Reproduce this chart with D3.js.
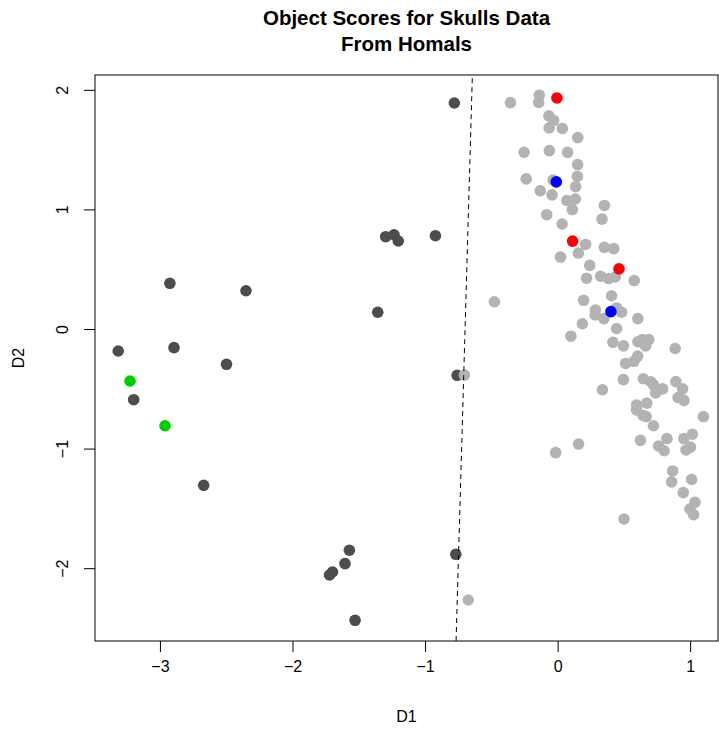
<!DOCTYPE html>
<html>
<head>
<meta charset="utf-8">
<title>Object Scores for Skulls Data</title>
<script src="https://cdn.jsdelivr.net/npm/d3@7"></script>
<style>
  body { margin: 0; background: #fff; }
  text { font-family: "Liberation Sans", Arial, Helvetica, sans-serif; fill: #000; }
</style>
</head>
<body>
<div id="chart"></div>
<script>
// object scores (D1, D2)
var darkPts = [
  [-0.779, 1.890], [-1.297, 0.772], [-1.234, 0.788], [-1.202, 0.736], [-0.922, 0.780],
  [-2.351, 0.320], [-1.357, 0.140], [-2.925, 0.382], [-3.315, -0.184], [-2.894, -0.156],
  [-2.498, -0.295], [-3.198, -0.591], [-2.670, -1.307], [-0.758, -0.387], [-1.571, -1.850],
  [-1.604, -1.962], [-1.721, -2.057], [-1.698, -2.032], [-0.768, -1.884], [-1.528, -2.436]
];
var greyPts = [
  [-0.703, -0.385], [-0.674, -2.266], [-0.477, 0.228], [-0.356, 1.893], [-0.138, 1.955],
  [-0.143, 1.894], [-0.066, 1.783], [-0.030, 1.743], [-0.064, 1.682], [0.036, 1.677],
  [0.152, 1.600], [-0.253, 1.478], [-0.062, 1.492], [0.075, 1.477], [0.151, 1.375],
  [-0.237, 1.255], [-0.034, 1.246], [0.149, 1.276], [0.136, 1.190], [-0.131, 1.156],
  [-0.042, 1.122], [0.070, 1.075], [0.134, 1.087], [0.111, 0.999], [0.353, 1.033],
  [-0.082, 0.956], [0.335, 0.919], [0.034, 0.878], [0.211, 0.707], [0.352, 0.683],
  [0.423, 0.672], [0.157, 0.635], [0.022, 0.601], [0.242, 0.532], [0.218, 0.425],
  [0.325, 0.441], [0.385, 0.422], [0.435, 0.435], [0.578, 0.405], [0.196, 0.240],
  [0.407, 0.278], [0.285, 0.159], [0.283, 0.117], [0.349, 0.087], [0.444, 0.176],
  [0.483, 0.140], [0.605, 0.087], [0.187, 0.044], [0.445, 0.004], [0.100, -0.060],
  [0.417, -0.111], [0.497, -0.141], [0.606, -0.106], [0.639, -0.089], [0.688, -0.089],
  [0.664, -0.142], [0.887, -0.163], [0.604, -0.227], [0.576, -0.270], [0.513, -0.288],
  [0.496, -0.423], [0.647, -0.416], [0.703, -0.441], [0.723, -0.468], [0.740, -0.535],
  [0.792, -0.501], [0.892, -0.440], [0.943, -0.501], [0.338, -0.508], [0.909, -0.573],
  [0.953, -0.597], [0.596, -0.635], [0.673, -0.620], [0.596, -0.677], [0.645, -0.723],
  [0.668, -0.733], [1.100, -0.732], [0.723, -0.809], [0.625, -0.931], [0.825, -0.916],
  [0.158, -0.962], [-0.015, -1.034], [0.762, -0.978], [0.804, -1.018], [0.952, -0.916],
  [1.017, -0.880], [0.968, -1.012], [1.002, -0.988], [0.868, -1.187], [0.860, -1.278],
  [1.011, -1.258], [0.948, -1.368], [1.036, -1.449], [0.998, -1.505], [1.026, -1.553],
  [0.501, -1.589]
];
var redPts = [[-0.005, 1.932], [0.113, 0.735], [0.463, 0.503]];
var bluePts = [[-0.010, 1.230], [0.402, 0.145]];
var greenPts = [[-3.226, -0.435], [-2.962, -0.809]];

// dashed separating line, two end points in data units
var splitLine = [[-0.766, -2.609], [-0.643, 2.124]];

var xTicks = [-3, -2, -1, 0, 1];
var yTicks = [-2, -1, 0, 1, 2];
var xDomain = [-3.49, 1.21];
var yDomain = [-2.609, 2.124];

var W = 719, H = 732;
var box = { left: 95, right: 718, top: 75, bottom: 641 };

var svg = d3.select("#chart").append("svg")
  .attr("width", W)
  .attr("height", H);

var x = d3.scaleLinear().domain(xDomain).range([box.left, box.right]);
var y = d3.scaleLinear().domain(yDomain).range([box.bottom, box.top]);

// points
var groups = [
  { pts: darkPts, col: "#4d4d4d" },
  { pts: greyPts, col: "#b3b3b3" },
  { pts: greenPts, col: "#00cd00" },
  { pts: redPts, col: "#ff0000" },
  { pts: bluePts, col: "#0000ff" }
];
groups.forEach(function(g) {
  svg.append("g").selectAll("circle")
    .data(g.pts)
    .enter().append("circle")
    .attr("cx", function(d) { return x(d[0]); })
    .attr("cy", function(d) { return y(d[1]); })
    .attr("r", 5.8)
    .style("fill", g.col);
});

svg.append("line")
  .attr("x1", x(splitLine[0][0])).attr("y1", y(splitLine[0][1]))
  .attr("x2", x(splitLine[1][0])).attr("y2", y(splitLine[1][1]))
  .style("stroke", "#000")
  .style("stroke-width", 1)
  .style("stroke-dasharray", "5,4");

// box
svg.append("rect")
  .attr("x", box.left).attr("y", box.top)
  .attr("width", box.right - box.left).attr("height", box.bottom - box.top)
  .style("fill", "none").style("stroke", "#000").style("stroke-width", 1);

var xAxis = d3.axisBottom(x).tickValues(xTicks).tickSize(11).tickPadding(9).tickFormat(d3.format("d"));
var gx = svg.append("g").attr("transform", "translate(0," + box.bottom + ")").call(xAxis);
gx.select(".domain").remove();
gx.selectAll("text").style("font-size", "16px").attr("fill", "#000");

var yAxis = d3.axisLeft(y).tickValues(yTicks).tickSize(11).tickFormat(d3.format("d"));
var gy = svg.append("g").attr("transform", "translate(" + box.left + ",0)").call(yAxis);
gy.select(".domain").remove();
gy.selectAll("text")
  .style("font-size", "16px")
  .attr("fill", "#000")
  .attr("x", null).attr("dy", null)
  .attr("text-anchor", "middle")
  .attr("transform", function() { return "translate(-27,0) rotate(-90)"; });

// titles
svg.append("text").attr("x", (box.left + box.right) / 2).attr("y", 25)
  .attr("text-anchor", "middle").style("font-size", "20.5px").style("font-weight", "bold")
  .text("Object Scores for Skulls Data");
svg.append("text").attr("x", (box.left + box.right) / 2).attr("y", 51)
  .attr("text-anchor", "middle").style("font-size", "20.5px").style("font-weight", "bold")
  .text("From Homals");

svg.append("text").attr("x", (box.left + box.right) / 2).attr("y", 722)
  .attr("text-anchor", "middle").style("font-size", "16px").text("D1");
svg.append("text").attr("transform", "translate(24," + (box.top + box.bottom) / 2 + ") rotate(-90)")
  .attr("text-anchor", "middle").style("font-size", "16px").text("D2");
</script>
</body>
</html>
